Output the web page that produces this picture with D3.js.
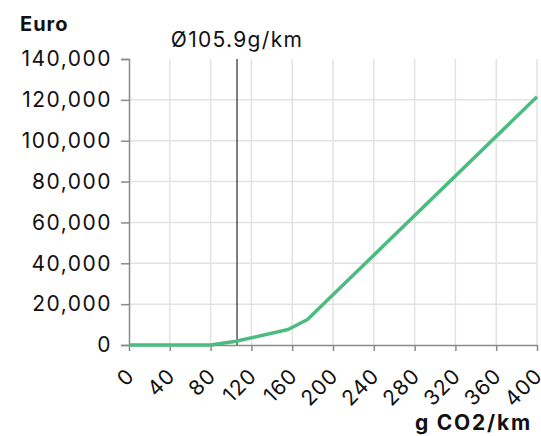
<!DOCTYPE html>
<html>
<head>
<meta charset="utf-8">
<script src="https://cdn.jsdelivr.net/npm/d3@7"></script>
<style>
  body { margin: 0; background: #fff; }
  text { font-family: Inter, "Open Sans", sans-serif; fill: #111; }
</style>
</head>
<body>
<div id="chart"></div>
<script>
// data
var co2 = [0, 80, 105, 156, 175, 400];
var euro = [0, 0, 1800, 7600, 12500, 121500];
var xTicks = [0, 40, 80, 120, 160, 200, 240, 280, 320, 360, 400];
var yTicks = [0, 20000, 40000, 60000, 80000, 100000, 120000, 140000];
var avgCo2 = 105.9;

var margin = {top: 59, right: 4, bottom: 91, left: 129},
    width = 541 - margin.left - margin.right,
    height = 436 - margin.top - margin.bottom;

var svg = d3.select("#chart")
  .append("svg")
    .attr("width", 541)
    .attr("height", 436)
  .append("g")
    .attr("transform", "translate(" + margin.left + "," + margin.top + ")");

var x = d3.scaleLinear().domain([0, 400]).range([0, width]);
var y = d3.scaleLinear().domain([0, 140000]).range([height, 0]);

// grid
svg.append("g")
  .selectAll("line")
  .data(xTicks.slice(1))
  .enter().append("line")
    .attr("x1", d => x(d)).attr("x2", d => x(d))
    .attr("y1", 0).attr("y2", height)
    .style("stroke", "#e2e2e2").style("stroke-width", 1.5);

svg.append("g")
  .selectAll("line")
  .data(yTicks.slice(1, -1))
  .enter().append("line")
    .attr("x1", 0).attr("x2", width)
    .attr("y1", d => y(d)).attr("y2", d => y(d))
    .style("stroke", "#e2e2e2").style("stroke-width", 1.5);

// y axis
var yAxis = svg.append("g")
  .call(d3.axisLeft(y).tickValues(yTicks).tickSize(8).tickPadding(9).tickFormat(d3.format(",")));
yAxis.select(".domain").style("stroke", "#8a8a8a").style("stroke-width", 1.5);
yAxis.selectAll(".tick line").style("stroke", "#8a8a8a").style("stroke-width", 1.5);
yAxis.selectAll("text")
  .style("font-size", "21px").style("font-family", "Inter").style("letter-spacing", "1.5px")
  .attr("fill", "#111");

// x axis
var xAxis = svg.append("g")
  .attr("transform", "translate(0," + height + ")")
  .call(d3.axisBottom(x).tickValues(xTicks).tickSize(6).tickSizeOuter(0));
xAxis.select(".domain").style("stroke", "#8a8a8a").style("stroke-width", 1.5);
xAxis.selectAll(".tick line").style("stroke", "#8a8a8a").style("stroke-width", 1.5);
xAxis.selectAll("text")
  .style("font-size", "21px").style("font-family", "Inter").style("letter-spacing", "1px")
  .attr("fill", "#111")
  .attr("text-anchor", "end")
  .attr("x", 0).attr("y", 0).attr("dy", "0.35em")
  .attr("transform", "translate(1,27) rotate(-45)");

// average line
svg.append("line")
  .attr("x1", x(avgCo2)).attr("x2", x(avgCo2))
  .attr("y1", 0).attr("y2", height)
  .style("stroke", "#000").style("stroke-width", 1);

svg.append("text")
  .attr("x", x(avgCo2))
  .attr("y", -12)
  .attr("text-anchor", "middle")
  .style("font-size", "21px").style("letter-spacing", "1.3px")
  .text("Ø" + avgCo2 + "g/km");

// the curve
var pts = co2.map((c, i) => [c, euro[i]]);
svg.append("path")
  .datum(pts)
  .attr("fill", "none")
  .attr("stroke", "#4cbb80")
  .attr("stroke-width", 3.5)
  .attr("stroke-linejoin", "round")
  .attr("d", d3.line().x(d => x(d[0])).y(d => y(d[1])));

// axis titles
svg.append("text")
  .attr("x", -109).attr("y", -28)
  .style("font-size", "20px").style("font-weight", "bold").style("letter-spacing", "1px")
  .text("Euro");

svg.append("text")
  .attr("x", width - 5).attr("y", height + 85)
  .attr("text-anchor", "end")
  .style("font-size", "21px").style("font-weight", "bold").style("letter-spacing", "1.8px")
  .text("g CO2/km");
</script>
</body>
</html>
